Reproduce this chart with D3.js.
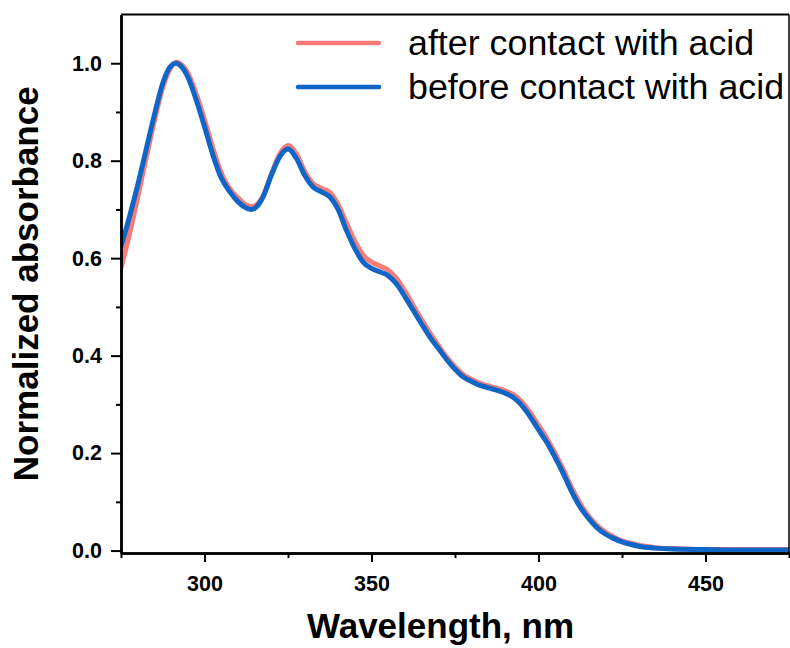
<!DOCTYPE html>
<html>
<head>
<meta charset="utf-8">
<script src="https://cdn.jsdelivr.net/npm/d3@7"></script>
<style>
  body { margin: 0; background: #fff; }
  svg { display: block; }
  text { font-family: "Liberation Sans", Arial, sans-serif; }
</style>
</head>
<body>
<div class="chart"></div>
<script>
// wavelength grid (nm)
var wavelength = [275, 277.5, 280, 282.5, 285, 287.5, 290, 291.5, 292.5, 295, 297.5, 300,
  302.5, 305, 307.5, 310, 312.5, 314, 315, 317.5, 320, 322.5, 325, 327.5, 330, 332.5,
  335, 337.5, 340, 342.5, 345, 347.5, 350, 352.5, 355, 357.5, 360, 362.5, 365, 367.5,
  370, 372.5, 375, 377.5, 380, 382.5, 385, 387.5, 390, 392.5, 395, 397.5, 400, 402.5,
  405, 407.5, 410, 412.5, 415, 417.5, 420, 422.5, 425, 427.5, 430, 435, 440, 450, 460, 475];

var afterAcid = [0.580, 0.648, 0.725, 0.805, 0.882, 0.950, 0.992, 1.002, 1.000, 0.980, 0.937, 0.884,
  0.826, 0.775, 0.743, 0.724, 0.709, 0.706, 0.707, 0.727, 0.772, 0.813, 0.831, 0.814, 0.778, 0.753,
  0.743, 0.735, 0.710, 0.672, 0.635, 0.606, 0.592, 0.584, 0.575, 0.558, 0.532, 0.503, 0.474, 0.446,
  0.421, 0.397, 0.377, 0.361, 0.351, 0.343, 0.338, 0.333, 0.328, 0.320, 0.305, 0.283, 0.257, 0.230,
  0.199, 0.165, 0.128, 0.096, 0.071, 0.052, 0.038, 0.028, 0.020, 0.015, 0.011, 0.006, 0.004, 0.002, 0.002, 0.002];

var beforeAcid = [0.622, 0.684, 0.750, 0.822, 0.894, 0.959, 0.995, 1.000, 0.997, 0.972, 0.925, 0.870,
  0.812, 0.765, 0.737, 0.716, 0.703, 0.700, 0.702, 0.725, 0.770, 0.808, 0.824, 0.805, 0.770, 0.746,
  0.736, 0.726, 0.700, 0.657, 0.620, 0.592, 0.579, 0.572, 0.564, 0.547, 0.521, 0.493, 0.465, 0.438,
  0.415, 0.392, 0.372, 0.356, 0.347, 0.339, 0.334, 0.329, 0.323, 0.314, 0.298, 0.275, 0.248, 0.222,
  0.191, 0.157, 0.120, 0.089, 0.066, 0.047, 0.034, 0.025, 0.018, 0.013, 0.009, 0.005, 0.003, 0.002, 0.001, 0.001];

var xTicks = [300, 350, 400, 450];
var xMinor = [275, 325, 375, 425, 475];
var yTicks = [0.0, 0.2, 0.4, 0.6, 0.8, 1.0];
var yMinor = [0.1, 0.3, 0.5, 0.7, 0.9];

var seriesNames = ["after contact with acid", "before contact with acid"];
var seriesColors = ["#f77b76", "#0f66c6"];

const width = 790;
const height = 648;
const plotLeft = 121, plotRight = 789, plotTop = 14.5, plotBottom = 553;

const svg = d3.select('.chart')
    .append('svg')
    .attr('width', width)
    .attr('height', height);

const x = d3.scaleLinear().domain([275, 475]).range([plotLeft, plotRight]);
const y = d3.scaleLinear().domain([-0.005, 1.1]).range([plotBottom, plotTop]);

svg.append("clipPath").attr("id", "clip")
  .append("rect")
    .attr("x", plotLeft).attr("y", plotTop)
    .attr("width", plotRight - plotLeft).attr("height", plotBottom - plotTop);

const line = d3.line()
    .x(d => x(d[0]))
    .y(d => y(d[1]))
    .curve(d3.curveMonotoneX);

const series = [afterAcid, beforeAcid];
series.forEach(function (vals, i) {
  svg.append("path")
    .datum(wavelength.map((w, j) => [w, vals[j]]))
    .attr("clip-path", "url(#clip)")
    .attr("fill", "none")
    .attr("stroke", seriesColors[i])
    .attr("stroke-width", 5)
    .attr("stroke-linejoin", "round")
    .attr("stroke-linecap", "round")
    .attr("d", line);
});

// frame top / right
svg.append("line").attr("x1", plotLeft).attr("x2", plotRight).attr("y1", plotTop).attr("y2", plotTop)
  .attr("stroke", "#000").attr("stroke-width", 2);
svg.append("line").attr("x1", plotRight).attr("x2", plotRight).attr("y1", plotTop).attr("y2", plotBottom)
  .attr("stroke", "#000").attr("stroke-width", 1.5);

// axes
const xAxis = svg.append("g").attr("transform", "translate(0," + plotBottom + ")")
  .call(d3.axisBottom(x).tickValues(xTicks).tickSize(9).tickSizeOuter(0).tickFormat(d3.format("d")));
const xAxisMinor = svg.append("g").attr("transform", "translate(0," + plotBottom + ")")
  .call(d3.axisBottom(x).tickValues(xMinor).tickSize(5).tickSizeOuter(0).tickFormat(""));
const yAxis = svg.append("g").attr("transform", "translate(" + plotLeft + ",0)")
  .call(d3.axisLeft(y).tickValues(yTicks).tickSize(10).tickSizeOuter(0).tickFormat(d3.format(".1f")));
const yAxisMinor = svg.append("g").attr("transform", "translate(" + plotLeft + ",0)")
  .call(d3.axisLeft(y).tickValues(yMinor).tickSize(5).tickSizeOuter(0).tickFormat(""));

[xAxis, xAxisMinor, yAxis, yAxisMinor].forEach(function (g) {
  g.selectAll(".domain").attr("stroke", "#000").attr("stroke-width", 2.5);
  g.selectAll(".tick line").attr("stroke", "#000").attr("stroke-width", 2);
  g.selectAll(".tick text")
    .attr("fill", "#000")
    .attr("font-size", "21.5px")
    .attr("font-weight", "bold")
    .attr("font-family", "'Liberation Sans', Arial, sans-serif");
});
xAxis.selectAll(".tick text").attr("dy", "1.2em");
yAxis.selectAll(".tick text").attr("x", -19);

// axis titles
svg.append("text")
    .attr("x", 440.5)
    .attr("y", 638)
    .attr("text-anchor", "middle")
    .attr("font-size", "35px")
    .attr("font-weight", "bold")
    .text("Wavelength, nm");

svg.append("text")
    .attr("transform", "translate(38," + ((plotTop + plotBottom) / 2) + ") rotate(-90)")
    .attr("text-anchor", "middle")
    .attr("font-size", "35px")
    .attr("font-weight", "bold")
    .text("Normalized absorbance");

// legend
const legend = svg.append("g");
seriesNames.forEach(function (name, i) {
  const ly = 43 + i * 44;
  legend.append("line")
    .attr("x1", 298).attr("x2", 379)
    .attr("y1", ly).attr("y2", ly)
    .attr("stroke", seriesColors[i])
    .attr("stroke-width", 4.5)
    .attr("stroke-linecap", "round");
  legend.append("text")
    .attr("x", 408)
    .attr("y", ly + 12)
    .attr("font-size", "35.8px")
    .attr("fill", "#000")
    .text(name);
});
</script>
</body>
</html>
